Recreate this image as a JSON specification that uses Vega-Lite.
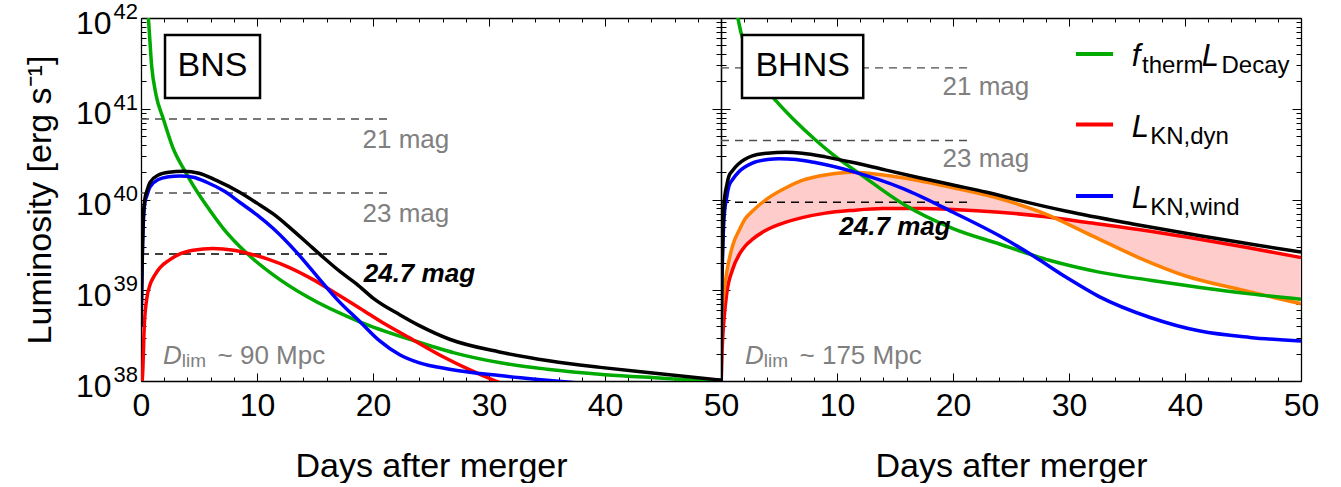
{
  "$schema": "https://vega.github.io/schema/vega-lite/v6.json",
  "padding": {"left": 23, "top": 1, "right": 5, "bottom": 0},
  "spacing": 0,
  "bounds": "flush",
  "config": {
    "view": {"stroke": null},
    "font": "Liberation Sans",
    "axis": {"domainColor": "#000", "domainWidth": 1.3, "tickColor": "#000", "tickWidth": 1, "labelColor": "#000", "titleColor": "#000", "labelFont": "Liberation Sans", "titleFont": "Liberation Sans", "grid": false}
  },
  "datasets": {
    "mags": [
      {"p": "BNS", "m": "21 mag", "L": 7.709e40},
      {"p": "BNS", "m": "23 mag", "L": 1.18e40},
      {"p": "BNS", "m": "24.7 mag", "L": 2.512e39},
      {"p": "BHNS", "m": "21 mag", "L": 2.818e41},
      {"p": "BHNS", "m": "23 mag", "L": 4.467e40},
      {"p": "BHNS", "m": "24.7 mag", "L": 9.333e39}
    ],
    "exps": [
      {"e": "38", "L": 1e38},
      {"e": "39", "L": 1e39},
      {"e": "40", "L": 1e40},
      {"e": "41", "L": 1e41},
      {"e": "42", "L": 1e42}
    ],
    "boxes": [{"p": "BNS", "t": "BNS"}, {"p": "BHNS", "t": "BHNS"}],
    "legend": [
      {"s": "therm", "L": 4.01e41},
      {"s": "dyn", "L": 6.70e40},
      {"s": "wind", "L": 1.094e40}
    ],
    "labels": [
      {"p": "BNS", "k": "mag", "t": "21 mag", "d": 19.1, "L": 4.53e40},
      {"p": "BNS", "k": "mag", "t": "23 mag", "d": 19.1, "L": 6.92e39},
      {"p": "BNS", "k": "bold", "t": "24.7 mag", "d": 19.2, "L": 1.51e39},
      {"p": "BNS", "k": "D", "t": "D", "d": 1.9, "L": 1.54e38},
      {"p": "BNS", "k": "sub", "t": "lim", "d": 3.52, "L": 1.43e38},
      {"p": "BNS", "k": "rest", "t": "~ 90 Mpc", "d": 6.6, "L": 1.54e38},
      {"p": "BHNS", "k": "mag", "t": "21 mag", "d": 19.1, "L": 1.74e41},
      {"p": "BHNS", "k": "mag", "t": "23 mag", "d": 19.1, "L": 2.79e40},
      {"p": "BHNS", "k": "bold", "t": "24.7 mag", "d": 10.2, "L": 5.0e39},
      {"p": "BHNS", "k": "D", "t": "D", "d": 2.07, "L": 1.54e38},
      {"p": "BHNS", "k": "sub", "t": "lim", "d": 3.69, "L": 1.43e38},
      {"p": "BHNS", "k": "rest", "t": "~ 175 Mpc", "d": 6.77, "L": 1.54e38},
      {"p": "BHNS", "k": "legmain", "t": "f", "d": 35.4, "L": 2.96e41},
      {"p": "BHNS", "k": "legsub", "t": "therm", "d": 36.3, "L": 2.48e41},
      {"p": "BHNS", "k": "legmain", "t": "L", "d": 41.45, "L": 2.96e41},
      {"p": "BHNS", "k": "legsub", "t": "Decay", "d": 43.15, "L": 2.48e41},
      {"p": "BHNS", "k": "legmain", "t": "L", "d": 35.4, "L": 4.94e40},
      {"p": "BHNS", "k": "legsub", "t": "KN,dyn", "d": 37.0, "L": 4.14e40},
      {"p": "BHNS", "k": "legmain", "t": "L", "d": 35.4, "L": 8.05e39},
      {"p": "BHNS", "k": "legsub", "t": "KN,wind", "d": 37.0, "L": 6.75e39}
    ],
    "band": [
      {"d": 0, "red": 7.943e37, "orange": 2.512e38},
      {"d": 0.1, "red": 2.239e38, "orange": 5.754e38},
      {"d": 0.26, "red": 4.786e38, "orange": 9.55e38},
      {"d": 0.5, "red": 9.333e38, "orange": 1.585e39},
      {"d": 1, "red": 1.698e39, "orange": 3.09e39},
      {"d": 1.6, "red": 2.512e39, "orange": 4.677e39},
      {"d": 2.1, "red": 3.09e39, "orange": 6.166e39},
      {"d": 2.7, "red": 3.631e39, "orange": 7.413e39},
      {"d": 4, "red": 4.677e39, "orange": 1.023e40},
      {"d": 5.6, "red": 5.623e39, "orange": 1.349e40},
      {"d": 7, "red": 6.31e39, "orange": 1.622e40},
      {"d": 9, "red": 7.079e39, "orange": 1.862e40},
      {"d": 11.3, "red": 7.586e39, "orange": 1.995e40},
      {"d": 14, "red": 7.943e39, "orange": 1.862e40},
      {"d": 17, "red": 7.943e39, "orange": 1.622e40},
      {"d": 20, "red": 7.762e39, "orange": 1.349e40},
      {"d": 24, "red": 7.244e39, "orange": 1.023e40},
      {"d": 28, "red": 6.457e39, "orange": 6.918e39},
      {"d": 32, "red": 5.495e39, "orange": 3.981e39},
      {"d": 36, "red": 4.677e39, "orange": 2.291e39},
      {"d": 40, "red": 3.89e39, "orange": 1.445e39},
      {"d": 45, "red": 3.02e39, "orange": 1.0e39},
      {"d": 50, "red": 2.291e39, "orange": 7.079e38}
    ],
    "curves": [
      {"p": "BNS", "s": "therm", "d": 0.45, "L": 1.585e42},
      {"p": "BNS", "s": "therm", "d": 0.63, "L": 1.0e42},
      {"p": "BNS", "s": "therm", "d": 0.92, "L": 2.951e41},
      {"p": "BNS", "s": "therm", "d": 1.3, "L": 1.413e41},
      {"p": "BNS", "s": "therm", "d": 1.92, "L": 7.762e40},
      {"p": "BNS", "s": "therm", "d": 2.78, "L": 3.631e40},
      {"p": "BNS", "s": "therm", "d": 3.85, "L": 1.995e40},
      {"p": "BNS", "s": "therm", "d": 4.2, "L": 1.66e40},
      {"p": "BNS", "s": "therm", "d": 5.66, "L": 8.511e39},
      {"p": "BNS", "s": "therm", "d": 7.1, "L": 4.786e39},
      {"p": "BNS", "s": "therm", "d": 9.1, "L": 2.57e39},
      {"p": "BNS", "s": "therm", "d": 11.4, "L": 1.479e39},
      {"p": "BNS", "s": "therm", "d": 14.3, "L": 8.511e38},
      {"p": "BNS", "s": "therm", "d": 18.9, "L": 4.467e38},
      {"p": "BNS", "s": "therm", "d": 23.4, "L": 2.818e38},
      {"p": "BNS", "s": "therm", "d": 27, "L": 2.042e38},
      {"p": "BNS", "s": "therm", "d": 31, "L": 1.585e38},
      {"p": "BNS", "s": "therm", "d": 35, "L": 1.349e38},
      {"p": "BNS", "s": "therm", "d": 40, "L": 1.175e38},
      {"p": "BNS", "s": "therm", "d": 45, "L": 1.072e38},
      {"p": "BNS", "s": "therm", "d": 50, "L": 9.772e37},

      {"p": "BNS", "s": "dyn", "d": 0, "L": 7.943e37},
      {"p": "BNS", "s": "dyn", "d": 0.15, "L": 1.259e38},
      {"p": "BNS", "s": "dyn", "d": 0.28, "L": 3.981e38},
      {"p": "BNS", "s": "dyn", "d": 0.49, "L": 7.943e38},
      {"p": "BNS", "s": "dyn", "d": 0.78, "L": 1.148e39},
      {"p": "BNS", "s": "dyn", "d": 1.2, "L": 1.479e39},
      {"p": "BNS", "s": "dyn", "d": 1.64, "L": 1.778e39},
      {"p": "BNS", "s": "dyn", "d": 2.4, "L": 2.138e39},
      {"p": "BNS", "s": "dyn", "d": 3.36, "L": 2.512e39},
      {"p": "BNS", "s": "dyn", "d": 4.5, "L": 2.754e39},
      {"p": "BNS", "s": "dyn", "d": 6.2, "L": 2.884e39},
      {"p": "BNS", "s": "dyn", "d": 8, "L": 2.754e39},
      {"p": "BNS", "s": "dyn", "d": 9.4, "L": 2.512e39},
      {"p": "BNS", "s": "dyn", "d": 11, "L": 2.188e39},
      {"p": "BNS", "s": "dyn", "d": 12.8, "L": 1.778e39},
      {"p": "BNS", "s": "dyn", "d": 14.8, "L": 1.318e39},
      {"p": "BNS", "s": "dyn", "d": 16.5, "L": 9.772e38},
      {"p": "BNS", "s": "dyn", "d": 18.9, "L": 6.31e38},
      {"p": "BNS", "s": "dyn", "d": 21, "L": 4.266e38},
      {"p": "BNS", "s": "dyn", "d": 23.5, "L": 2.818e38},
      {"p": "BNS", "s": "dyn", "d": 26, "L": 1.862e38},
      {"p": "BNS", "s": "dyn", "d": 28.4, "L": 1.318e38},
      {"p": "BNS", "s": "dyn", "d": 30, "L": 1.072e38},
      {"p": "BNS", "s": "dyn", "d": 31.5, "L": 8.913e37},

      {"p": "BNS", "s": "wind", "d": 0, "L": 3.981e38},
      {"p": "BNS", "s": "wind", "d": 0.05, "L": 7.943e38},
      {"p": "BNS", "s": "wind", "d": 0.12, "L": 2.512e39},
      {"p": "BNS", "s": "wind", "d": 0.2, "L": 5.623e39},
      {"p": "BNS", "s": "wind", "d": 0.34, "L": 9.333e39},
      {"p": "BNS", "s": "wind", "d": 0.5, "L": 1.096e40},
      {"p": "BNS", "s": "wind", "d": 0.78, "L": 1.38e40},
      {"p": "BNS", "s": "wind", "d": 1.5, "L": 1.66e40},
      {"p": "BNS", "s": "wind", "d": 2.4, "L": 1.778e40},
      {"p": "BNS", "s": "wind", "d": 3.36, "L": 1.82e40},
      {"p": "BNS", "s": "wind", "d": 4.5, "L": 1.758e40},
      {"p": "BNS", "s": "wind", "d": 5.66, "L": 1.549e40},
      {"p": "BNS", "s": "wind", "d": 7.2, "L": 1.23e40},
      {"p": "BNS", "s": "wind", "d": 8.5, "L": 9.333e39},
      {"p": "BNS", "s": "wind", "d": 10, "L": 6.761e39},
      {"p": "BNS", "s": "wind", "d": 11.4, "L": 4.786e39},
      {"p": "BNS", "s": "wind", "d": 13.4, "L": 2.63e39},
      {"p": "BNS", "s": "wind", "d": 15.4, "L": 1.318e39},
      {"p": "BNS", "s": "wind", "d": 16.9, "L": 7.943e38},
      {"p": "BNS", "s": "wind", "d": 18.9, "L": 4.467e38},
      {"p": "BNS", "s": "wind", "d": 20.5, "L": 2.818e38},
      {"p": "BNS", "s": "wind", "d": 22.3, "L": 1.95e38},
      {"p": "BNS", "s": "wind", "d": 24, "L": 1.585e38},
      {"p": "BNS", "s": "wind", "d": 26.6, "L": 1.349e38},
      {"p": "BNS", "s": "wind", "d": 30.9, "L": 1.148e38},
      {"p": "BNS", "s": "wind", "d": 34, "L": 1.047e38},
      {"p": "BNS", "s": "wind", "d": 37.7, "L": 9.55e37},

      {"p": "BNS", "s": "total", "d": 0, "L": 3.981e38},
      {"p": "BNS", "s": "total", "d": 0.05, "L": 8.913e38},
      {"p": "BNS", "s": "total", "d": 0.12, "L": 2.818e39},
      {"p": "BNS", "s": "total", "d": 0.2, "L": 6.31e39},
      {"p": "BNS", "s": "total", "d": 0.34, "L": 1.023e40},
      {"p": "BNS", "s": "total", "d": 0.5, "L": 1.23e40},
      {"p": "BNS", "s": "total", "d": 0.78, "L": 1.549e40},
      {"p": "BNS", "s": "total", "d": 1.5, "L": 1.862e40},
      {"p": "BNS", "s": "total", "d": 2.4, "L": 1.995e40},
      {"p": "BNS", "s": "total", "d": 3.65, "L": 2.042e40},
      {"p": "BNS", "s": "total", "d": 5, "L": 1.95e40},
      {"p": "BNS", "s": "total", "d": 6.5, "L": 1.622e40},
      {"p": "BNS", "s": "total", "d": 8.5, "L": 1.202e40},
      {"p": "BNS", "s": "total", "d": 10, "L": 9.12e39},
      {"p": "BNS", "s": "total", "d": 11.4, "L": 6.93e39},
      {"p": "BNS", "s": "total", "d": 12.8, "L": 4.94e39},
      {"p": "BNS", "s": "total", "d": 14.3, "L": 3.34e39},
      {"p": "BNS", "s": "total", "d": 15.8, "L": 2.25e39},
      {"p": "BNS", "s": "total", "d": 17.2, "L": 1.59e39},
      {"p": "BNS", "s": "total", "d": 18.6, "L": 1.17e39},
      {"p": "BNS", "s": "total", "d": 20, "L": 8.2e38},
      {"p": "BNS", "s": "total", "d": 22.3, "L": 5.37e38},
      {"p": "BNS", "s": "total", "d": 24, "L": 4.07e38},
      {"p": "BNS", "s": "total", "d": 26.6, "L": 2.884e38},
      {"p": "BNS", "s": "total", "d": 30.9, "L": 2.089e38},
      {"p": "BNS", "s": "total", "d": 35.3, "L": 1.66e38},
      {"p": "BNS", "s": "total", "d": 39.6, "L": 1.413e38},
      {"p": "BNS", "s": "total", "d": 43.9, "L": 1.23e38},
      {"p": "BNS", "s": "total", "d": 50, "L": 1.023e38},

      {"p": "BHNS", "s": "therm", "d": 1.3, "L": 1.259e42},
      {"p": "BHNS", "s": "therm", "d": 1.47, "L": 9.772e41},
      {"p": "BHNS", "s": "therm", "d": 1.7, "L": 7.079e41},
      {"p": "BHNS", "s": "therm", "d": 2.5, "L": 3.548e41},
      {"p": "BHNS", "s": "therm", "d": 3.5, "L": 1.95e41},
      {"p": "BHNS", "s": "therm", "d": 5.0, "L": 1.122e41},
      {"p": "BHNS", "s": "therm", "d": 6.2, "L": 7.762e40},
      {"p": "BHNS", "s": "therm", "d": 8.2, "L": 4.467e40},
      {"p": "BHNS", "s": "therm", "d": 9.6, "L": 3.162e40},
      {"p": "BHNS", "s": "therm", "d": 12.0, "L": 1.905e40},
      {"p": "BHNS", "s": "therm", "d": 15.7, "L": 8.913e39},
      {"p": "BHNS", "s": "therm", "d": 20, "L": 4.786e39},
      {"p": "BHNS", "s": "therm", "d": 24, "L": 3.236e39},
      {"p": "BHNS", "s": "therm", "d": 28.3, "L": 2.138e39},
      {"p": "BHNS", "s": "therm", "d": 32.6, "L": 1.585e39},
      {"p": "BHNS", "s": "therm", "d": 37, "L": 1.288e39},
      {"p": "BHNS", "s": "therm", "d": 41.3, "L": 1.072e39},
      {"p": "BHNS", "s": "therm", "d": 45.6, "L": 9.12e38},
      {"p": "BHNS", "s": "therm", "d": 50, "L": 7.943e38},

      {"p": "BHNS", "s": "wind", "d": 0, "L": 7.943e37},
      {"p": "BHNS", "s": "wind", "d": 0.05, "L": 7.079e38},
      {"p": "BHNS", "s": "wind", "d": 0.12, "L": 1.995e39},
      {"p": "BHNS", "s": "wind", "d": 0.26, "L": 6.166e39},
      {"p": "BHNS", "s": "wind", "d": 0.5, "L": 1.072e40},
      {"p": "BHNS", "s": "wind", "d": 0.69, "L": 1.413e40},
      {"p": "BHNS", "s": "wind", "d": 1.0, "L": 1.66e40},
      {"p": "BHNS", "s": "wind", "d": 1.5, "L": 1.995e40},
      {"p": "BHNS", "s": "wind", "d": 2.7, "L": 2.512e40},
      {"p": "BHNS", "s": "wind", "d": 4, "L": 2.754e40},
      {"p": "BHNS", "s": "wind", "d": 5.0, "L": 2.818e40},
      {"p": "BHNS", "s": "wind", "d": 6.5, "L": 2.754e40},
      {"p": "BHNS", "s": "wind", "d": 8, "L": 2.57e40},
      {"p": "BHNS", "s": "wind", "d": 11.3, "L": 2.042e40},
      {"p": "BHNS", "s": "wind", "d": 15.7, "L": 1.318e40},
      {"p": "BHNS", "s": "wind", "d": 20, "L": 7.244e39},
      {"p": "BHNS", "s": "wind", "d": 24, "L": 3.981e39},
      {"p": "BHNS", "s": "wind", "d": 26.9, "L": 2.399e39},
      {"p": "BHNS", "s": "wind", "d": 29.8, "L": 1.38e39},
      {"p": "BHNS", "s": "wind", "d": 32.6, "L": 8.511e38},
      {"p": "BHNS", "s": "wind", "d": 37, "L": 5.012e38},
      {"p": "BHNS", "s": "wind", "d": 41.3, "L": 3.548e38},
      {"p": "BHNS", "s": "wind", "d": 45.6, "L": 3.02e38},
      {"p": "BHNS", "s": "wind", "d": 50, "L": 2.754e38},

      {"p": "BHNS", "s": "total", "d": 0, "L": 7.943e37},
      {"p": "BHNS", "s": "total", "d": 0.05, "L": 7.943e38},
      {"p": "BHNS", "s": "total", "d": 0.12, "L": 2.63e39},
      {"p": "BHNS", "s": "total", "d": 0.26, "L": 8.913e39},
      {"p": "BHNS", "s": "total", "d": 0.5, "L": 1.445e40},
      {"p": "BHNS", "s": "total", "d": 0.69, "L": 1.82e40},
      {"p": "BHNS", "s": "total", "d": 1.0, "L": 2.089e40},
      {"p": "BHNS", "s": "total", "d": 1.5, "L": 2.455e40},
      {"p": "BHNS", "s": "total", "d": 2.7, "L": 3.02e40},
      {"p": "BHNS", "s": "total", "d": 4, "L": 3.236e40},
      {"p": "BHNS", "s": "total", "d": 5.6, "L": 3.311e40},
      {"p": "BHNS", "s": "total", "d": 7, "L": 3.236e40},
      {"p": "BHNS", "s": "total", "d": 9, "L": 2.951e40},
      {"p": "BHNS", "s": "total", "d": 11.3, "L": 2.57e40},
      {"p": "BHNS", "s": "total", "d": 14, "L": 2.138e40},
      {"p": "BHNS", "s": "total", "d": 17.1, "L": 1.738e40},
      {"p": "BHNS", "s": "total", "d": 20, "L": 1.445e40},
      {"p": "BHNS", "s": "total", "d": 22.9, "L": 1.202e40},
      {"p": "BHNS", "s": "total", "d": 25.7, "L": 9.772e39},
      {"p": "BHNS", "s": "total", "d": 29.8, "L": 7.413e39},
      {"p": "BHNS", "s": "total", "d": 35.5, "L": 5.37e39},
      {"p": "BHNS", "s": "total", "d": 41.3, "L": 3.981e39},
      {"p": "BHNS", "s": "total", "d": 45.6, "L": 3.236e39},
      {"p": "BHNS", "s": "total", "d": 50, "L": 2.63e39}
    ]
  },
  "hconcat": [
    {
      "width": 580,
      "height": 363,
      "resolve": {"axis": {"x": "independent", "y": "independent"}},
      "layer": [
        {
          "data": {"name": "mags"},
          "transform": [{"filter": "datum.p === 'BNS' && datum.m !== '24.7 mag'"}],
          "mark": {"type": "rule", "strokeDash": [8, 6], "strokeWidth": 1.4, "color": "#4d4d4d"},
          "encoding": {
            "x": {"datum": 0, "type": "quantitative", "scale": {"domain": [0, 50], "nice": false, "zero": false}, "axis": null},
            "x2": {"datum": 21.3},
            "y": {"field": "L", "type": "quantitative", "scale": {"type": "log", "domain": [1e38, 1e42], "nice": false}, "axis": null}
          }
        },
        {
          "data": {"name": "mags"},
          "transform": [{"filter": "datum.p === 'BNS' && datum.m === '24.7 mag'"}],
          "mark": {"type": "rule", "strokeDash": [8, 6], "strokeWidth": 1.4, "color": "#000000"},
          "encoding": {
            "x": {"datum": 0, "type": "quantitative", "axis": null},
            "x2": {"datum": 21.3},
            "y": {"field": "L", "type": "quantitative", "axis": null}
          }
        },
        {
          "data": {"name": "curves"},
          "transform": [{"filter": "datum.p === 'BNS'"}],
          "mark": {"type": "line", "strokeWidth": 3.5, "clip": true, "interpolate": "monotone"},
          "encoding": {
            "x": {"field": "d", "type": "quantitative", "scale": {"domain": [0, 50], "nice": false, "zero": false},
              "axis": {"orient": "bottom", "values": [0,2,4,6,8,10,12,14,16,18,20,22,24,26,28,30,32,34,36,38,40,42,44,46,48,50],
                "labelExpr": "datum.value % 10 === 0 ? datum.label : ''", "format": "d",
                "tickSize": {"condition": {"test": "datum.value % 10 === 0", "value": -8}, "value": -4},
                "labelFontSize": 32, "labelPadding": 17, "labelFlush": false, "labelOverlap": false,
                "title": "Days after merger", "titleFontSize": 34, "titleFontWeight": "normal", "titlePadding": 24}},
            "y": {"field": "L", "type": "quantitative", "scale": {"type": "log", "domain": [1e38, 1e42], "nice": false},
              "axis": {"orient": "left",
                "values": [1e38,2e38,3e38,4e38,5e38,6e38,7e38,8e38,9e38,1e39,2e39,3e39,4e39,5e39,6e39,7e39,8e39,9e39,1e40,2e40,3e40,4e40,5e40,6e40,7e40,8e40,9e40,1e41,2e41,3e41,4e41,5e41,6e41,7e41,8e41,9e41,1e42],
                "labelExpr": "abs(log(datum.value)/LN10 - round(log(datum.value)/LN10)) < 0.001 ? '10' : ''",
                "tickSize": {"condition": {"test": "abs(log(datum.value)/LN10 - round(log(datum.value)/LN10)) < 0.001", "value": -9}, "value": -5},
                "labelFontSize": 32, "labelPadding": 39, "labelOffset": 5, "labelOverlap": false,
                "title": "Luminosity [erg s⁻¹]", "titleFontSize": 34, "titleFontWeight": "normal", "titlePadding": 18}},
            "color": {"field": "s", "type": "nominal", "scale": {"domain": ["therm", "dyn", "wind", "total"], "range": ["#00aa00", "#ff0000", "#0000ff", "#000000"]}, "legend": null}
          }
        },
        {
          "data": {"name": "exps"},
          "mark": {"type": "text", "fontSize": 22, "color": "#000000", "align": "right", "baseline": "middle", "dx": -3, "dy": -6, "clip": false},
          "encoding": {
            "x": {"datum": 0, "type": "quantitative", "axis": null},
            "y": {"field": "L", "type": "quantitative", "axis": null},
            "text": {"field": "e"}
          }
        },
        {
          "data": {"name": "boxes"},
          "transform": [{"filter": "datum.p === 'BNS'"}],
          "mark": {"type": "rect", "fill": "#ffffff", "stroke": "#000000", "strokeWidth": 2.5},
          "encoding": {
            "x": {"datum": 2.07, "type": "quantitative", "axis": null},
            "x2": {"datum": 10.26},
            "y": {"datum": 1.31e41, "type": "quantitative", "axis": null},
            "y2": {"datum": 6.5e41}
          }
        },
        {
          "data": {"name": "boxes"},
          "transform": [{"filter": "datum.p === 'BNS'"}],
          "mark": {"type": "text", "fontSize": 34, "color": "#000000", "align": "center", "baseline": "middle"},
          "encoding": {
            "x": {"datum": 6.16, "type": "quantitative", "axis": null},
            "y": {"datum": 2.93e41, "type": "quantitative", "axis": null},
            "text": {"field": "t"}
          }
        },
        {
          "data": {"name": "labels"},
          "transform": [{"filter": "datum.p === 'BNS' && datum.k === 'mag'"}],
          "mark": {"type": "text", "fontSize": 26, "color": "#808080", "align": "left", "baseline": "middle"},
          "encoding": {
            "x": {"field": "d", "type": "quantitative", "scale": {"domain": [0, 50], "nice": false, "zero": false},
              "axis": {"orient": "top", "values": [0,2,4,6,8,10,12,14,16,18,20,22,24,26,28,30,32,34,36,38,40,42,44,46,48,50], "labels": false, "title": null,
                "tickSize": {"condition": {"test": "datum.value % 10 === 0", "value": -8}, "value": -4}}},
            "y": {"field": "L", "type": "quantitative", "scale": {"type": "log", "domain": [1e38, 1e42], "nice": false},
              "axis": {"orient": "right", "values": [1e38,2e38,3e38,4e38,5e38,6e38,7e38,8e38,9e38,1e39,2e39,3e39,4e39,5e39,6e39,7e39,8e39,9e39,1e40,2e40,3e40,4e40,5e40,6e40,7e40,8e40,9e40,1e41,2e41,3e41,4e41,5e41,6e41,7e41,8e41,9e41,1e42], "labels": false, "title": null,
                "tickSize": {"condition": {"test": "abs(log(datum.value)/LN10 - round(log(datum.value)/LN10)) < 0.001", "value": -9}, "value": -5}}},
            "text": {"field": "t"}
          }
        },
        {
          "data": {"name": "labels"},
          "transform": [{"filter": "datum.p === 'BNS' && datum.k === 'bold'"}],
          "mark": {"type": "text", "fontSize": 26, "fontWeight": "bold", "fontStyle": "italic", "color": "#000000", "align": "left", "baseline": "middle"},
          "encoding": {"x": {"field": "d", "type": "quantitative", "axis": null}, "y": {"field": "L", "type": "quantitative", "axis": null}, "text": {"field": "t"}}
        },
        {
          "data": {"name": "labels"},
          "transform": [{"filter": "datum.p === 'BNS' && datum.k === 'D'"}],
          "mark": {"type": "text", "fontSize": 26, "fontStyle": "italic", "color": "#808080", "align": "left", "baseline": "alphabetic"},
          "encoding": {"x": {"field": "d", "type": "quantitative", "axis": null}, "y": {"field": "L", "type": "quantitative", "axis": null}, "text": {"field": "t"}}
        },
        {
          "data": {"name": "labels"},
          "transform": [{"filter": "datum.p === 'BNS' && datum.k === 'sub'"}],
          "mark": {"type": "text", "fontSize": 19, "color": "#808080", "align": "left", "baseline": "alphabetic"},
          "encoding": {"x": {"field": "d", "type": "quantitative", "axis": null}, "y": {"field": "L", "type": "quantitative", "axis": null}, "text": {"field": "t"}}
        },
        {
          "data": {"name": "labels"},
          "transform": [{"filter": "datum.p === 'BNS' && datum.k === 'rest'"}],
          "mark": {"type": "text", "fontSize": 26, "color": "#808080", "align": "left", "baseline": "alphabetic"},
          "encoding": {"x": {"field": "d", "type": "quantitative", "axis": null}, "y": {"field": "L", "type": "quantitative", "axis": null}, "text": {"field": "t"}}
        }
      ]
    },
    {
      "width": 580,
      "height": 363,
      "resolve": {"axis": {"x": "independent", "y": "independent"}},
      "layer": [
        {
          "data": {"name": "band"},
          "mark": {"type": "area", "color": "#ffcccc", "opacity": 1, "clip": true, "interpolate": "monotone"},
          "encoding": {
            "x": {"field": "d", "type": "quantitative", "scale": {"domain": [0, 50], "nice": false, "zero": false}, "axis": null},
            "y": {"field": "orange", "type": "quantitative", "scale": {"type": "log", "domain": [1e38, 1e42], "nice": false}, "axis": null},
            "y2": {"field": "red"}
          }
        },
        {
          "data": {"name": "mags"},
          "transform": [{"filter": "datum.p === 'BHNS' && datum.m !== '24.7 mag'"}],
          "mark": {"type": "rule", "strokeDash": [8, 6], "strokeWidth": 1.4, "color": "#4d4d4d"},
          "encoding": {
            "x": {"datum": 0, "type": "quantitative", "axis": null},
            "x2": {"datum": 21.3},
            "y": {"field": "L", "type": "quantitative", "axis": null}
          }
        },
        {
          "data": {"name": "mags"},
          "transform": [{"filter": "datum.p === 'BHNS' && datum.m === '24.7 mag'"}],
          "mark": {"type": "rule", "strokeDash": [8, 6], "strokeWidth": 1.4, "color": "#000000"},
          "encoding": {
            "x": {"datum": 0, "type": "quantitative", "axis": null},
            "x2": {"datum": 21.3},
            "y": {"field": "L", "type": "quantitative", "axis": null}
          }
        },
        {
          "data": {"name": "band"},
          "mark": {"type": "line", "color": "#ff0000", "strokeWidth": 3.5, "clip": true, "interpolate": "monotone"},
          "encoding": {
            "x": {"field": "d", "type": "quantitative", "axis": null},
            "y": {"field": "red", "type": "quantitative", "axis": null}
          }
        },
        {
          "data": {"name": "band"},
          "mark": {"type": "line", "color": "#ff8000", "strokeWidth": 3.5, "clip": true, "interpolate": "monotone"},
          "encoding": {
            "x": {"field": "d", "type": "quantitative", "axis": null},
            "y": {"field": "orange", "type": "quantitative", "axis": null}
          }
        },
        {
          "data": {"name": "curves"},
          "transform": [{"filter": "datum.p === 'BHNS'"}],
          "mark": {"type": "line", "strokeWidth": 3.5, "clip": true, "interpolate": "monotone"},
          "encoding": {
            "x": {"field": "d", "type": "quantitative", "scale": {"domain": [0, 50], "nice": false, "zero": false},
              "axis": {"orient": "bottom", "values": [0,2,4,6,8,10,12,14,16,18,20,22,24,26,28,30,32,34,36,38,40,42,44,46,48,50],
                "labelExpr": "datum.value % 10 === 0 && datum.value > 0 ? datum.label : ''", "format": "d",
                "tickSize": {"condition": {"test": "datum.value % 10 === 0", "value": -8}, "value": -4},
                "labelFontSize": 32, "labelPadding": 17, "labelFlush": false, "labelOverlap": false,
                "title": "Days after merger", "titleFontSize": 34, "titleFontWeight": "normal", "titlePadding": 24}},
            "y": {"field": "L", "type": "quantitative", "scale": {"type": "log", "domain": [1e38, 1e42], "nice": false},
              "axis": {"orient": "left", "labels": false, "title": null,
                "values": [1e38,2e38,3e38,4e38,5e38,6e38,7e38,8e38,9e38,1e39,2e39,3e39,4e39,5e39,6e39,7e39,8e39,9e39,1e40,2e40,3e40,4e40,5e40,6e40,7e40,8e40,9e40,1e41,2e41,3e41,4e41,5e41,6e41,7e41,8e41,9e41,1e42],
                "tickSize": {"condition": {"test": "abs(log(datum.value)/LN10 - round(log(datum.value)/LN10)) < 0.001", "value": -9}, "value": -5}}},
            "color": {"field": "s", "type": "nominal", "scale": {"domain": ["therm", "dyn", "wind", "total"], "range": ["#00aa00", "#ff0000", "#0000ff", "#000000"]}, "legend": null}
          }
        },
        {
          "data": {"name": "boxes"},
          "transform": [{"filter": "datum.p === 'BHNS'"}],
          "mark": {"type": "rect", "fill": "#ffffff", "stroke": "#000000", "strokeWidth": 2.5},
          "encoding": {
            "x": {"datum": 1.81, "type": "quantitative", "axis": null},
            "x2": {"datum": 12.26},
            "y": {"datum": 1.31e41, "type": "quantitative", "axis": null},
            "y2": {"datum": 6.5e41}
          }
        },
        {
          "data": {"name": "boxes"},
          "transform": [{"filter": "datum.p === 'BHNS'"}],
          "mark": {"type": "text", "fontSize": 34, "color": "#000000", "align": "center", "baseline": "middle"},
          "encoding": {
            "x": {"datum": 7.04, "type": "quantitative", "axis": null},
            "y": {"datum": 2.93e41, "type": "quantitative", "axis": null},
            "text": {"field": "t"}
          }
        },
        {
          "data": {"name": "legend"},
          "mark": {"type": "rule", "strokeWidth": 4},
          "encoding": {
            "x": {"datum": 30.6, "type": "quantitative", "axis": null},
            "x2": {"datum": 33.8},
            "y": {"field": "L", "type": "quantitative", "axis": null},
            "color": {"field": "s", "type": "nominal", "scale": {"domain": ["therm", "dyn", "wind", "total"], "range": ["#00aa00", "#ff0000", "#0000ff", "#000000"]}, "legend": null}
          }
        },
        {
          "data": {"name": "labels"},
          "transform": [{"filter": "datum.p === 'BHNS' && datum.k === 'mag'"}],
          "mark": {"type": "text", "fontSize": 26, "color": "#808080", "align": "left", "baseline": "middle"},
          "encoding": {
            "x": {"field": "d", "type": "quantitative", "scale": {"domain": [0, 50], "nice": false, "zero": false},
              "axis": {"orient": "top", "values": [0,2,4,6,8,10,12,14,16,18,20,22,24,26,28,30,32,34,36,38,40,42,44,46,48,50], "labels": false, "title": null,
                "tickSize": {"condition": {"test": "datum.value % 10 === 0", "value": -8}, "value": -4}}},
            "y": {"field": "L", "type": "quantitative", "scale": {"type": "log", "domain": [1e38, 1e42], "nice": false},
              "axis": {"orient": "right", "values": [1e38,2e38,3e38,4e38,5e38,6e38,7e38,8e38,9e38,1e39,2e39,3e39,4e39,5e39,6e39,7e39,8e39,9e39,1e40,2e40,3e40,4e40,5e40,6e40,7e40,8e40,9e40,1e41,2e41,3e41,4e41,5e41,6e41,7e41,8e41,9e41,1e42], "labels": false, "title": null,
                "tickSize": {"condition": {"test": "abs(log(datum.value)/LN10 - round(log(datum.value)/LN10)) < 0.001", "value": -9}, "value": -5}}},
            "text": {"field": "t"}
          }
        },
        {
          "data": {"name": "labels"},
          "transform": [{"filter": "datum.p === 'BHNS' && datum.k === 'bold'"}],
          "mark": {"type": "text", "fontSize": 26, "fontWeight": "bold", "fontStyle": "italic", "color": "#000000", "align": "left", "baseline": "middle"},
          "encoding": {"x": {"field": "d", "type": "quantitative", "axis": null}, "y": {"field": "L", "type": "quantitative", "axis": null}, "text": {"field": "t"}}
        },
        {
          "data": {"name": "labels"},
          "transform": [{"filter": "datum.p === 'BHNS' && datum.k === 'D'"}],
          "mark": {"type": "text", "fontSize": 26, "fontStyle": "italic", "color": "#808080", "align": "left", "baseline": "alphabetic"},
          "encoding": {"x": {"field": "d", "type": "quantitative", "axis": null}, "y": {"field": "L", "type": "quantitative", "axis": null}, "text": {"field": "t"}}
        },
        {
          "data": {"name": "labels"},
          "transform": [{"filter": "datum.p === 'BHNS' && datum.k === 'sub'"}],
          "mark": {"type": "text", "fontSize": 19, "color": "#808080", "align": "left", "baseline": "alphabetic"},
          "encoding": {"x": {"field": "d", "type": "quantitative", "axis": null}, "y": {"field": "L", "type": "quantitative", "axis": null}, "text": {"field": "t"}}
        },
        {
          "data": {"name": "labels"},
          "transform": [{"filter": "datum.p === 'BHNS' && datum.k === 'rest'"}],
          "mark": {"type": "text", "fontSize": 26, "color": "#808080", "align": "left", "baseline": "alphabetic"},
          "encoding": {"x": {"field": "d", "type": "quantitative", "axis": null}, "y": {"field": "L", "type": "quantitative", "axis": null}, "text": {"field": "t"}}
        },
        {
          "data": {"name": "labels"},
          "transform": [{"filter": "datum.k === 'legmain'"}],
          "mark": {"type": "text", "fontSize": 31, "fontStyle": "italic", "color": "#000000", "align": "left", "baseline": "alphabetic"},
          "encoding": {"x": {"field": "d", "type": "quantitative", "axis": null}, "y": {"field": "L", "type": "quantitative", "axis": null}, "text": {"field": "t"}}
        },
        {
          "data": {"name": "labels"},
          "transform": [{"filter": "datum.k === 'legsub'"}],
          "mark": {"type": "text", "fontSize": 24, "color": "#000000", "align": "left", "baseline": "alphabetic"},
          "encoding": {"x": {"field": "d", "type": "quantitative", "axis": null}, "y": {"field": "L", "type": "quantitative", "axis": null}, "text": {"field": "t"}}
        }
      ]
    }
  ]
}
